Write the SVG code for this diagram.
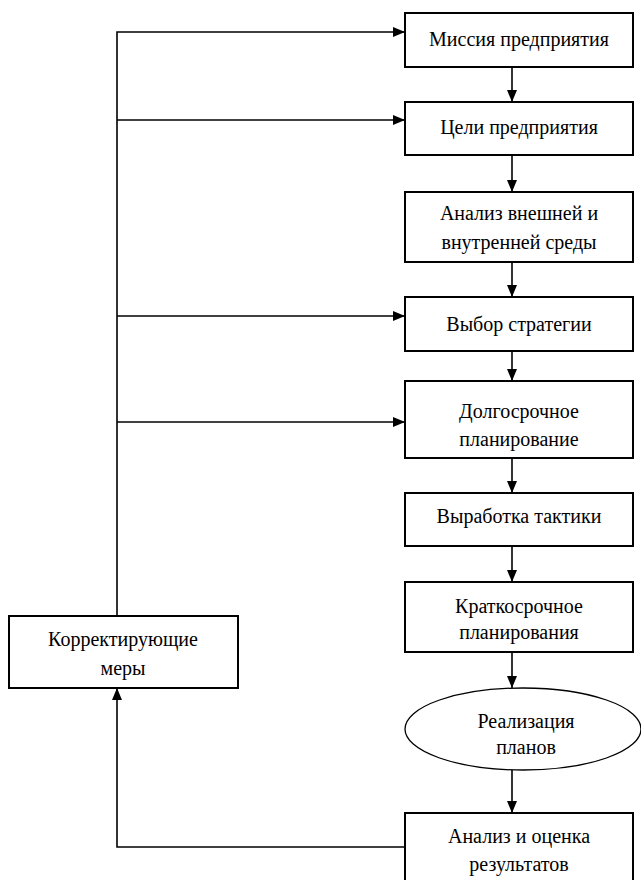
<svg xmlns="http://www.w3.org/2000/svg" width="641" height="880" viewBox="0 0 641 880">
<style>
.box{fill:#fff;stroke:#000;stroke-width:2}
.ell{fill:#fff;stroke:#000;stroke-width:1.3}
.t{font-family:'Liberation Serif','DejaVu Serif',serif;font-size:20px;fill:#000;text-anchor:middle}
.ln{fill:none;stroke:#000;stroke-width:1.6}
</style>
<defs>
<marker id="ah" markerUnits="userSpaceOnUse" markerWidth="13" markerHeight="11" refX="12" refY="5" orient="auto">
<path d="M0,0 L12,5 L0,10 Z" fill="#000"/>
</marker>
</defs>
<g id="connectors">
<line class="ln" x1="512" y1="67" x2="512" y2="102" marker-end="url(#ah)"/>
<line class="ln" x1="512" y1="155" x2="512" y2="192" marker-end="url(#ah)"/>
<line class="ln" x1="512" y1="262" x2="512" y2="297" marker-end="url(#ah)"/>
<line class="ln" x1="512" y1="351" x2="512" y2="381" marker-end="url(#ah)"/>
<line class="ln" x1="512" y1="458" x2="512" y2="493" marker-end="url(#ah)"/>
<line class="ln" x1="512" y1="546" x2="512" y2="582" marker-end="url(#ah)"/>
<line class="ln" x1="512" y1="652" x2="512" y2="688" marker-end="url(#ah)"/>
<line class="ln" x1="512" y1="770" x2="512" y2="813" marker-end="url(#ah)"/>
<polyline class="ln" points="405,847 117,847 117,688" marker-end="url(#ah)"/>
<polyline class="ln" points="117,616 117,32 405,32" marker-end="url(#ah)"/>
<line class="ln" x1="117" y1="120" x2="405" y2="120" marker-end="url(#ah)"/>
<line class="ln" x1="117" y1="316" x2="405" y2="316" marker-end="url(#ah)"/>
<line class="ln" x1="117" y1="422" x2="405" y2="422" marker-end="url(#ah)"/>
</g>
<g id="n1"><rect class="box" x="405" y="13" width="228" height="54"/><text class="t" x="519" y="46" font-family="Liberation Serif">Миссия предприятия</text></g>
<g id="n2"><rect class="box" x="405" y="102" width="228" height="53"/><text class="t" x="519" y="134">Цели предприятия</text></g>
<g id="n3"><rect class="box" x="405" y="192" width="228" height="70"/><text class="t" x="519" y="220">Анализ внешней и</text><text class="t" x="519" y="249">внутренней среды</text></g>
<g id="n4"><rect class="box" x="405" y="297" width="228" height="54"/><text class="t" x="519" y="331">Выбор стратегии</text></g>
<g id="n5"><rect class="box" x="405" y="381" width="228" height="77"/><text class="t" x="519" y="418">Долгосрочное</text><text class="t" x="519" y="446">планирование</text></g>
<g id="n6"><rect class="box" x="405" y="493" width="228" height="53"/><text class="t" x="519" y="523">Выработка тактики</text></g>
<g id="n7"><rect class="box" x="405" y="582" width="228" height="70"/><text class="t" x="519" y="613">Краткосрочное</text><text class="t" x="519" y="639">планирования</text></g>
<g id="n8"><ellipse class="ell" cx="523" cy="729" rx="118" ry="41"/><text class="t" x="526" y="728">Реализация</text><text class="t" x="526" y="754">планов</text></g>
<g id="n9"><rect class="box" x="405" y="813" width="228" height="75"/><text class="t" x="519" y="843">Анализ и оценка</text><text class="t" x="519" y="871">результатов</text></g>
<g id="n10"><rect class="box" x="9" y="616" width="229" height="72"/><text class="t" x="123" y="646">Корректирующие</text><text class="t" x="123" y="675">меры</text></g>
</svg>
